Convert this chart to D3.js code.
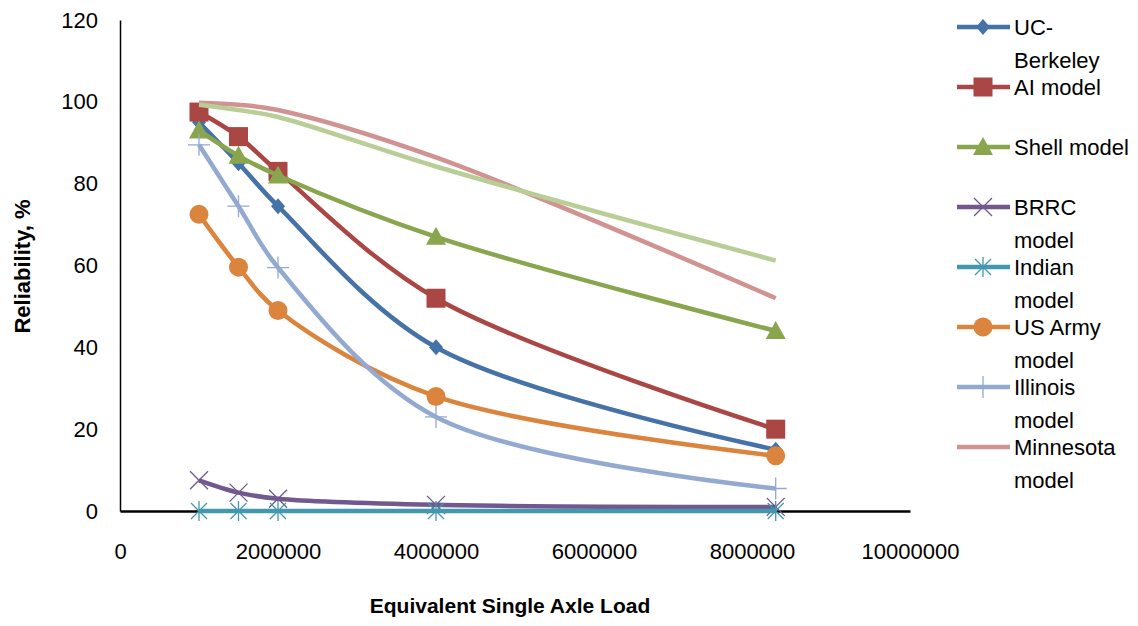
<!DOCTYPE html>
<html>
<head>
<meta charset="utf-8">
<script src="https://cdnjs.cloudflare.com/ajax/libs/d3/7.8.5/d3.min.js"></script>
<style>
  body { margin: 0; background: #fff; }
  svg { font-family: "Liberation Sans", Arial, sans-serif; }
</style>
</head>
<body>
<svg id="chart"></svg>
<script>
// ESAL values (x) shared by every series
const esal = [1000000, 1500000, 2000000, 4000000, 8300000];

// reliability, % for each model
const ucBerkeley    = [95, 85, 74.5, 40, 15];
const aiModel       = [97.5, 91.5, 83, 52, 20];
const shellModel    = [93, 86.8, 82, 67, 44];
const brrcModel     = [7.5, 4.5, 3, 1.5, 1];
const indianModel   = [0, 0, 0, 0, 0];
const usArmyModel   = [72.5, 59.6, 49, 28, 13.5];
const illinoisModel = [89.5, 74.5, 59.5, 23, 5.5];
const minnesotaModel = [99.8, 99.3, 98, 86.4, 52];
const lastModel     = [99.3, 98, 96.3, 84.2, 61.2]; // legend entry cut off in the original

const seriesNames = ["UC-Berkeley", "AI model", "Shell model", "BRRC model", "Indian model",
                     "US Army model", "Illinois model", "Minnesota model", ""];
const legendLines = [["UC-", "Berkeley"], ["AI model"], ["Shell model"], ["BRRC", "model"],
                     ["Indian", "model"], ["US Army", "model"], ["Illinois", "model"],
                     ["Minnesota", "model"]];
const seriesValues = [ucBerkeley, aiModel, shellModel, brrcModel, indianModel,
                      usArmyModel, illinoisModel, minnesotaModel, lastModel];

const xTicks = [0, 2000000, 4000000, 6000000, 8000000, 10000000];
const yTicks = [0, 20, 40, 60, 80, 100, 120];

const colors = ["#4572A7", "#AA4643", "#89A54E", "#71588F", "#4198AF",
                "#DB843D", "#93A9CF", "#D19392", "#B9CD96"];
const markers = ["diamond", "square", "triangle", "times", "asterisk", "circle", "plus", "none", "none"];

const W = 1138, H = 626;
const margin = { top: 20, right: 228, bottom: 115, left: 120 };

const svg = d3.select("#chart").attr("width", W).attr("height", H);

const x = d3.scaleLinear().domain([0, 10000000]).range([margin.left, W - margin.right]);
const y = d3.scaleLinear().domain([0, 120]).range([H - margin.bottom, margin.top]);

// axes
const yAxis = svg.append("g")
    .attr("transform", `translate(${margin.left},0)`)
    .call(d3.axisLeft(y).tickValues(yTicks).tickSize(0).tickPadding(22));
yAxis.select(".domain").attr("stroke", "#000").attr("stroke-width", 1.5);
yAxis.selectAll("text").attr("font-size", 22).attr("fill", "#000");

const xAxis = svg.append("g")
    .attr("transform", `translate(0,${y(0)})`)
    .call(d3.axisBottom(x).tickValues(xTicks).tickSize(0).tickPadding(32).tickFormat(d3.format("d")));
xAxis.select(".domain").attr("stroke", "#000").attr("stroke-width", 2.5);
xAxis.selectAll("text").attr("font-size", 22).attr("fill", "#000");

svg.append("text")
    .attr("transform", `translate(30,${(y(0) + y(120)) / 2 + 1}) rotate(-90)`)
    .attr("text-anchor", "middle")
    .attr("font-size", 22)
    .attr("font-weight", "bold")
    .text("Reliability, %");

svg.append("text")
    .attr("x", 510)
    .attr("y", 613)
    .attr("text-anchor", "middle")
    .attr("font-size", 21)
    .attr("font-weight", "bold")
    .text("Equivalent Single Axle Load");

// marker shapes
function drawMarker(g, type, color) {
    const s = 9.5;
    if (type === "diamond") {
        g.append("path").attr("d", `M0,${-8}L7,0L0,8L-7,0Z`).attr("fill", color);
    } else if (type === "square") {
        g.append("rect").attr("x", -s).attr("y", -s).attr("width", 2 * s).attr("height", 2 * s).attr("fill", color);
    } else if (type === "triangle") {
        g.append("path").attr("d", `M0,${-10}L10,8L-10,8Z`).attr("fill", color);
    } else if (type === "circle") {
        g.append("circle").attr("r", s).attr("fill", color);
    } else if (type === "times") {
        g.append("path").attr("d", `M-9,-9L9,9M9,-9L-9,9`).attr("stroke", color).attr("stroke-width", 1.3).attr("fill", "none");
    } else if (type === "asterisk") {
        g.append("path").attr("d", `M-8,-8L8,8M8,-8L-8,8M0,-10V10`).attr("stroke", color).attr("stroke-width", 1.3).attr("fill", "none");
    } else if (type === "plus") {
        g.append("path").attr("d", `M-11,0H11M0,-11V11`).attr("stroke", color).attr("stroke-width", 1.3).attr("fill", "none");
    }
}

const line = d3.line()
    .x(d => x(d[0]))
    .y(d => y(d[1]))
    .curve(d3.curveCatmullRom);

seriesValues.forEach((vals, i) => {
    const pts = esal.map((e, k) => [e, vals[k]]);
    const g = svg.append("g").attr("class", "series");
    g.append("path")
        .attr("d", line(pts))
        .attr("fill", "none")
        .attr("stroke", colors[i])
        .attr("stroke-width", 4.5)
        .attr("stroke-linejoin", "round");
    pts.forEach(p => {
        const m = g.append("g").attr("transform", `translate(${x(p[0])},${y(p[1])})`);
        drawMarker(m, markers[i], colors[i]);
    });
});

// legend
const legend = svg.append("g").attr("class", "legend");
legendLines.forEach((lines, i) => {
    const cy = 27 + i * 60;
    const row = legend.append("g").attr("transform", `translate(957,${cy})`);
    row.append("line")
        .attr("x1", 0).attr("x2", 53)
        .attr("stroke", colors[i])
        .attr("stroke-width", 4.5);
    const m = row.append("g").attr("transform", "translate(26,0)");
    drawMarker(m, markers[i], colors[i]);
    lines.forEach((t, j) => {
        row.append("text")
            .attr("x", 57)
            .attr("y", j * 33 + 8)
            .attr("font-size", 22)
            .attr("fill", "#000")
            .text(t);
    });
});
</script>
</body>
</html>
